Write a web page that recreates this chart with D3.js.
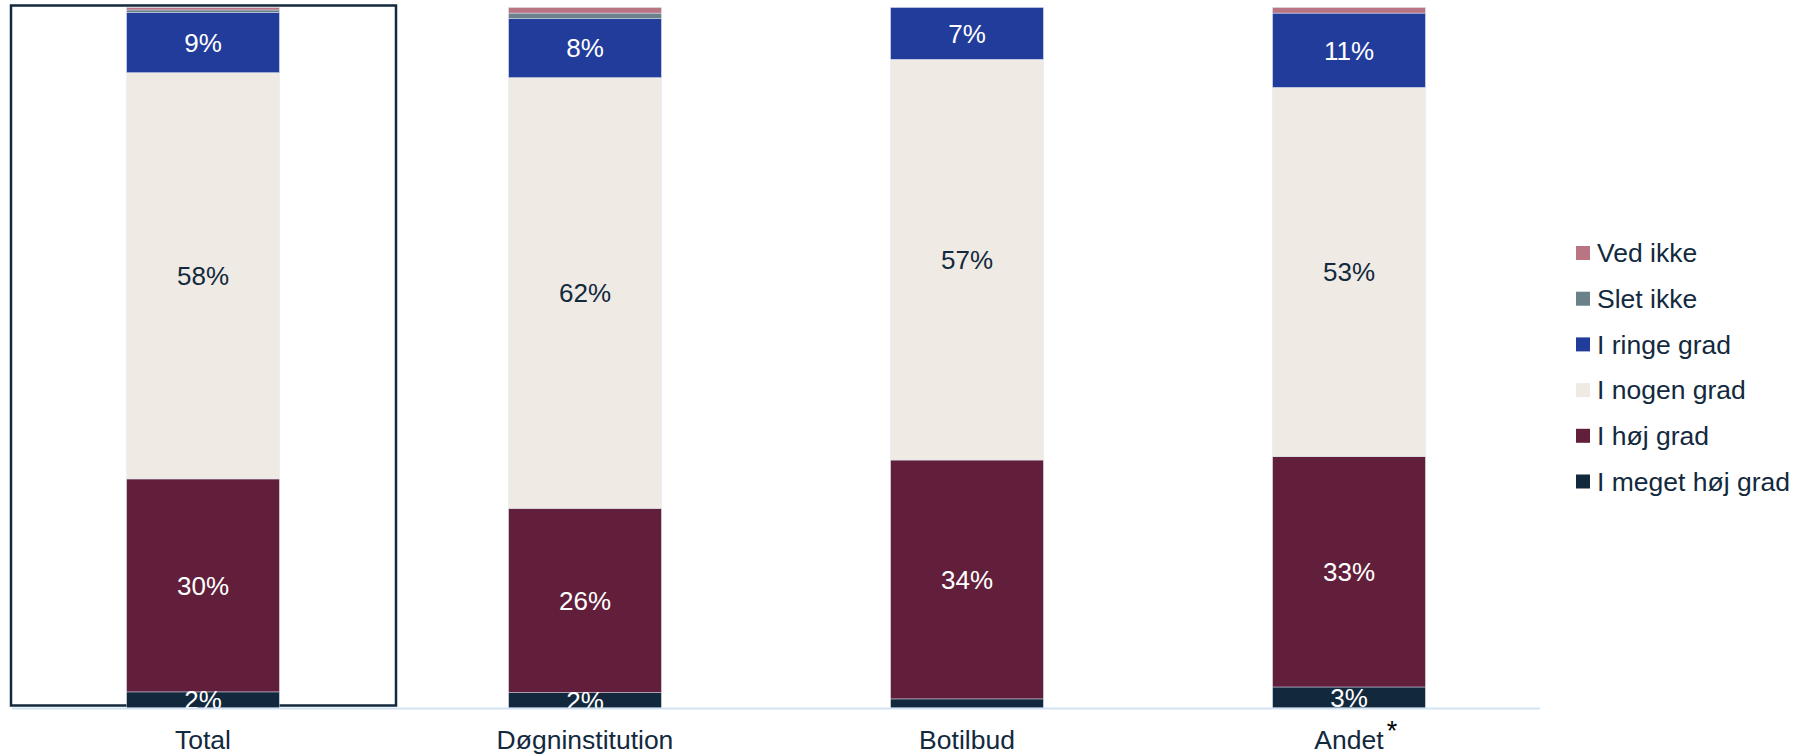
<!DOCTYPE html>
<html>
<head>
<meta charset="utf-8">
<script src="https://cdn.jsdelivr.net/npm/d3@7"></script>
<style>
  html, body { margin: 0; padding: 0; background: #ffffff; }
  svg { display: block; font-family: "Liberation Sans", Arial, Helvetica, sans-serif; }
</style>
</head>
<body>
<svg id="chart" width="1818" height="754"></svg>
<script>
// ---- data ----
const categories = ["Total", "Døgninstitution", "Botilbud", "Andet"];
const seriesNames = ["I meget høj grad", "I høj grad", "I nogen grad", "I ringe grad", "Slet ikke", "Ved ikke"];
const megetHoj = [2.3, 2.2, 1.3, 3.0];
const hoj      = [30.4, 26.3, 34.1, 32.9];
const nogen    = [58.0, 61.5, 57.2, 52.7];
const ringe    = [8.6, 8.4, 7.4, 10.6];
const sletIkke = [0.35, 0.8, 0, 0];
const vedIkke  = [0.35, 0.8, 0, 0.8];
const seriesColors = ["#12283c", "#621f3b", "#efebe4", "#223c9c", "#6a818a", "#ba7585"];
const labelColors  = ["#ffffff", "#ffffff", "#13293d", "#ffffff", "#ffffff", "#ffffff"];

const seriesValues = [megetHoj, hoj, nogen, ringe, sletIkke, vedIkke];
const rows = categories.map((c, i) => {
  const r = { cat: c };
  seriesNames.forEach((s, k) => r[s] = seriesValues[k][i]);
  return r;
});

const svg = d3.select("#chart");
const baseY = 708, topY = 7.5;
const x = d3.scaleBand().domain(categories).range([12, 1540]).paddingInner(0.6).paddingOuter(0.3);
const y = d3.scaleLinear().domain([0, 100]).range([baseY, topY]);

const stack = d3.stack().keys(seriesNames)(rows);

// frame around Total
const cTotal = x("Total") + x.bandwidth() / 2;
svg.append("rect")
  .attr("x", cTotal - 192).attr("y", 5.5)
  .attr("width", 385).attr("height", 700)
  .attr("fill", "none").attr("stroke", "#13293d").attr("stroke-width", 2.5);

svg.append("defs").append("clipPath").attr("id", "plotclip")
  .append("rect").attr("x", 0).attr("y", 0).attr("width", 1818).attr("height", baseY);

const g = svg.append("g");
stack.forEach((layer, k) => {
  g.selectAll(null).data(layer).enter().append("rect")
    .attr("x", d => x(d.data.cat))
    .attr("width", x.bandwidth())
    .attr("y", d => y(d[1]))
    .attr("height", d => Math.max(0, y(d[0]) - y(d[1])))
    .attr("fill", seriesColors[k])
    .attr("stroke", d => (d[1] - d[0]) > 0 ? "rgba(220,228,240,0.8)" : "none")
    .attr("stroke-width", 0.6);
});

// value labels
const lg = svg.append("g").attr("clip-path", "url(#plotclip)");
stack.forEach((layer, k) => {
  lg.selectAll(null).data(layer.filter(d => (d[1] - d[0]) >= 1.5)).enter().append("text")
    .attr("x", d => x(d.data.cat) + x.bandwidth() / 2)
    .attr("y", d => (y(d[0]) + y(d[1])) / 2)
    .attr("dy", "0.36em")
    .attr("text-anchor", "middle")
    .attr("font-size", 26)
    .attr("fill", labelColors[k])
    .text(d => Math.round(d[1] - d[0]) + "%");
});

// axis baseline
svg.append("line")
  .attr("x1", 12).attr("x2", 1540).attr("y1", baseY + 0.5).attr("y2", baseY + 0.5)
  .attr("stroke", "#d3e3f4").attr("stroke-width", 2);

// x labels
const xl = svg.append("g");
categories.forEach(c => {
  const t = xl.append("text")
    .attr("x", x(c) + x.bandwidth() / 2)
    .attr("y", 749)
    .attr("text-anchor", "middle")
    .attr("font-size", 26.5)
    .attr("fill", "#13293d")
    .text(c);
  if (c === "Andet") {
    const w = t.node().getComputedTextLength();
    xl.append("text")
      .attr("x", x(c) + x.bandwidth() / 2 + w / 2 + 3)
      .attr("y", 740)
      .attr("font-size", 27)
      .attr("fill", "#000000")
      .text("*");
  }
});

// legend
const legendOrder = seriesNames.slice().reverse();
const leg = svg.append("g");
legendOrder.forEach((s, i) => {
  const cy = 253 + i * 45.7;
  const k = seriesNames.indexOf(s);
  leg.append("rect").attr("x", 1576).attr("y", cy - 7).attr("width", 14).attr("height", 14)
    .attr("fill", seriesColors[k]);
  leg.append("text").attr("x", 1597).attr("y", cy).attr("dy", "0.35em")
    .attr("font-size", 26.5).attr("fill", "#13293d").text(s);
});
</script>
</body>
</html>
